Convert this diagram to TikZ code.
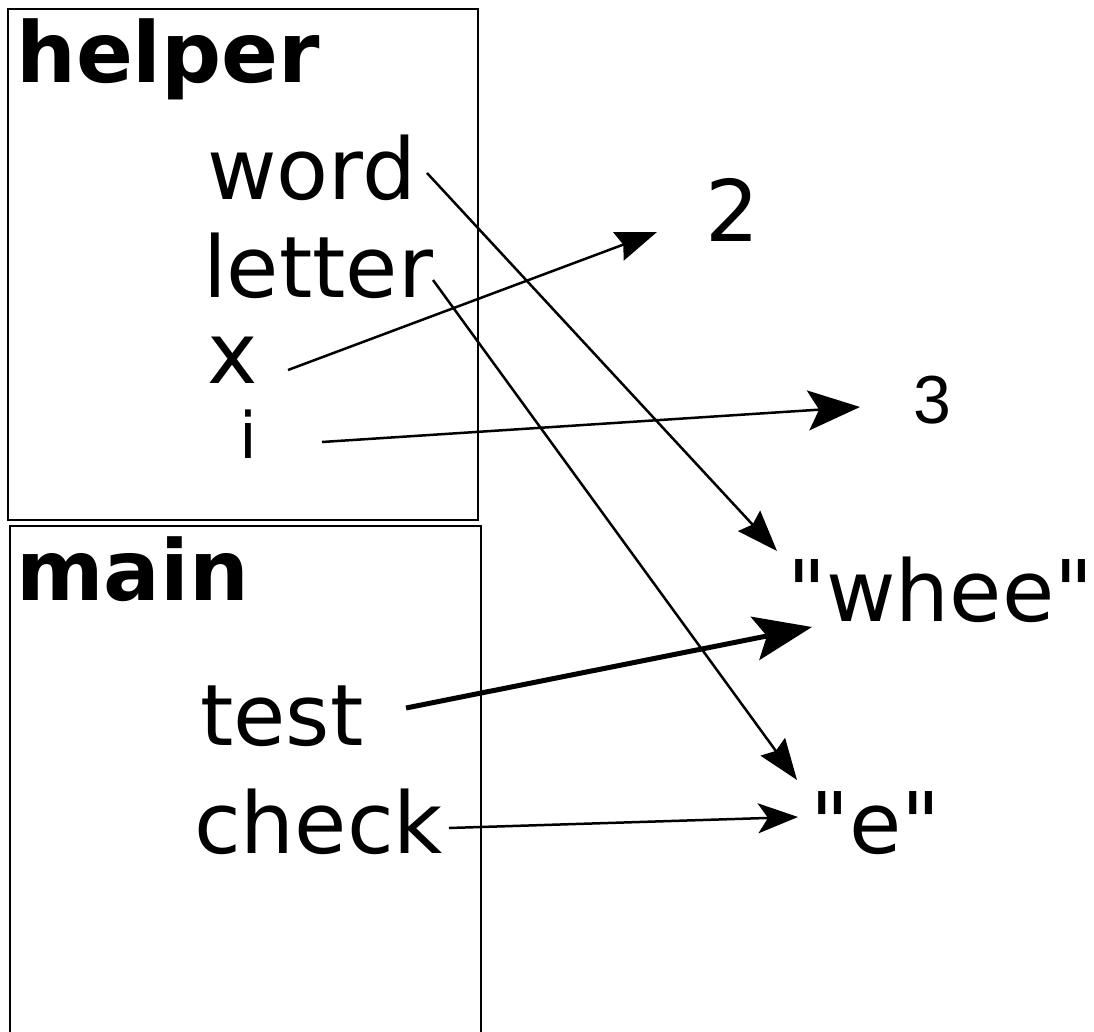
\documentclass[tikz,border=0pt]{standalone}
\usepackage{fontspec}
\setmainfont{DejaVu Sans}[Ligatures=TeXOff]
\newfontfamily\arialfont{Liberation Sans}
\usetikzlibrary{arrows.meta}
\begin{document}
\begin{tikzpicture}[x=1pt,y=-1pt,
  lbl/.style={anchor=base west,inner sep=0pt,font=\fontsize{85}{90}\selectfont},
  ttl/.style={anchor=base west,inner sep=0pt,font=\fontsize{84}{90}\selectfont\bfseries},
  small/.style={anchor=base west,inner sep=0pt,font=\fontsize{64}{70}\selectfont},
  frame/.style={draw,line width=2pt},
  ptr/.style={line width=2.5pt},
  tipA/.style={-{Stealth[length=41pt,width=30pt,inset=5pt]}},
  tipB/.style={-{Stealth[length=52pt,width=40pt,inset=11pt]}}
]
\useasboundingbox (0,0) rectangle (1094,1032);
\fill[white] (0,0) rectangle (1094,1032);
\begin{scope}
\clip (0,0) rectangle (1094,1032);
\draw[frame] (8,9) rectangle (478,520);
\draw[frame] (10,526) rectangle (481,1045);
\end{scope}
\node[ttl] (helper) at (16,83) {helper};
\node[ttl] (main) at (16,600) {main};
\node[lbl] (word) at (207,200) {word};
\node[lbl] (letter) at (203,297) {letter};
\node[lbl] (x) at (207,383) {x};
\node[small] (i) at (239,458) {i};
\node[lbl] (two) at (705,242) {2};
\node[anchor=base west,inner sep=0pt,font=\fontsize{68}{72}\selectfont\arialfont] (three) at (913,423) {3};
\node[lbl] (whee) at (787,621) {"whee"};
\node[lbl] (test) at (200,745) {test};
\node[lbl] (check) at (194,853) {check};
\node[lbl] (e) at (810,853) {"e"};
% endpoints
\coordinate (w0) at (427,173);
\coordinate (w1) at (777,551);
\coordinate (l0) at (433,280);
\coordinate (l1) at (797,780);
\coordinate (x0) at (288,370);
\coordinate (x1) at (657,232);
\coordinate (i0) at (322,442);
\coordinate (i1) at (860,407);
\coordinate (t0) at (406,708);
\coordinate (t1) at (812,627);
\coordinate (c0) at (449,828);
\coordinate (c1) at (798,817);
\draw[ptr,tipA] (w0) -- (w1);
\draw[ptr,tipA] (l0) -- (l1);
\draw[ptr,tipA] (x0) -- (x1);
\draw[ptr,tipB] (i0) -- (i1);
\draw[line width=5pt,-{Stealth[length=58pt,width=44pt,inset=12pt]}] (t0) -- (t1);
\draw[ptr,-{Stealth[length=40pt,width=30pt,inset=10pt]}] (c0) -- (c1);
\end{tikzpicture}
\end{document}
